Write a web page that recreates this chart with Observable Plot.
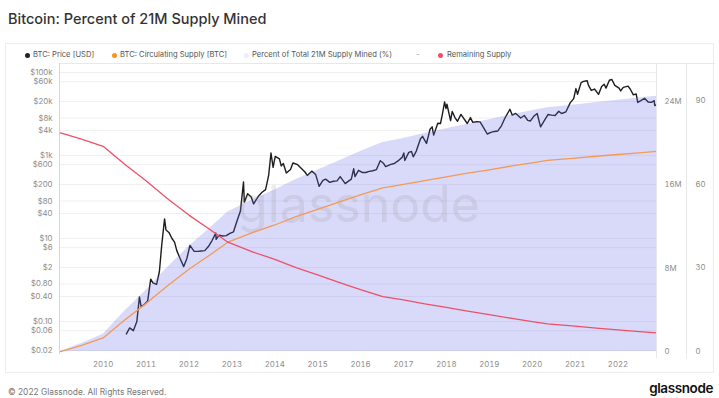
<!DOCTYPE html>
<html><head><meta charset="utf-8">
<script src="https://cdn.jsdelivr.net/npm/d3@7"></script>
<script src="https://cdn.jsdelivr.net/npm/@observablehq/plot@0.6"></script>
<style>
body{margin:0;background:#fff;font-family:Inter,"Noto Sans",sans-serif;}
#wrap{position:relative;width:719px;height:398px;overflow:hidden;background:#fff;}
#title{position:absolute;left:8px;top:10px;font-size:14.5px;font-weight:500;color:#333;white-space:nowrap;}
#panel{position:absolute;left:5px;top:43px;width:709px;height:330px;border:1px solid #ececec;box-sizing:border-box;}
.ln{position:absolute;background:#e8e8e8;}
.lg{position:absolute;top:50px;font-size:7.6px;color:#555;white-space:nowrap;line-height:10px;}
.dot{position:absolute;top:53px;width:5px;height:5px;border-radius:50%;}
.layer{position:absolute;left:0;top:40px;}
#foot{position:absolute;left:8px;top:387px;font-size:8.4px;color:#777;white-space:nowrap;}
#logo{position:absolute;right:6px;top:381px;font-size:13.5px;font-weight:600;color:#111;letter-spacing:-0.4px;white-space:nowrap;line-height:15px;}
</style></head><body>
<div id="wrap">
<div id="title">Bitcoin: Percent of 21M Supply Mined</div>
<div id="panel"></div>
<div class="dot" style="left:25px;background:#222"></div><div class="lg" style="left:33px">BTC: Price [USD]</div>
<div class="dot" style="left:112px;background:#f7931a"></div><div class="lg" style="left:120px">BTC: Circulating Supply [BTC]</div>
<div class="dot" style="left:244px;background:#ececfb"></div><div class="lg" style="left:252px">Percent of Total 21M Supply Mined (%)</div>
<div class="lg" style="left:416px;color:#999">-</div>
<div class="dot" style="left:438px;background:#ee4f66"></div><div class="lg" style="left:447px">Remaining Supply</div>
<div class="layer" id="l1"></div>
<div class="layer" id="l2"></div>
<div class="layer" id="l3"></div>
<div class="ln" style="left:60px;top:63px;width:655px;height:1px"></div>
<div class="ln" style="left:59px;top:63px;width:1px;height:291px;background:#d6d6d6"></div>
<div class="ln" style="left:656px;top:63px;width:1px;height:295px"></div>
<div class="ln" style="left:686px;top:63px;width:1px;height:295px"></div>
<div id="foot">© 2022 Glassnode. All Rights Reserved.</div>
<div id="logo">glassnode</div>
</div>
<script>
// ---- data ----
const priceDates = ["2010-07-18","2010-08-15","2010-09-15","2010-10-15","2010-11-06","2010-11-20","2010-12-15",
"2011-01-15","2011-02-10","2011-03-01","2011-04-01","2011-04-25","2011-05-15","2011-06-08","2011-06-20","2011-07-15","2011-08-10","2011-09-01","2011-09-20","2011-10-20","2011-11-18","2011-12-15",
"2012-01-10","2012-02-15","2012-03-15","2012-04-15","2012-05-15","2012-06-15","2012-07-15","2012-08-17","2012-08-20","2012-09-15","2012-10-15","2012-11-15","2012-12-15",
"2013-01-15","2013-02-15","2013-03-15","2013-04-10","2013-04-17","2013-05-15","2013-06-15","2013-07-05","2013-08-15","2013-09-15","2013-10-15","2013-11-10","2013-11-30","2013-12-18",
"2014-01-05","2014-02-10","2014-02-25","2014-03-15","2014-04-10","2014-05-15","2014-06-05","2014-07-15","2014-08-18","2014-09-15","2014-10-05","2014-11-12","2014-12-15",
"2015-01-14","2015-02-15","2015-03-10","2015-04-15","2015-05-15","2015-06-15","2015-07-12","2015-08-24","2015-09-15","2015-10-15","2015-11-04","2015-11-15","2015-12-15",
"2016-01-15","2016-02-15","2016-03-15","2016-04-15","2016-05-15","2016-06-17","2016-07-15","2016-08-02","2016-09-15","2016-10-15","2016-11-15","2016-12-20",
"2017-01-04","2017-01-12","2017-02-15","2017-03-10","2017-03-25","2017-04-20","2017-05-25","2017-06-12","2017-07-16","2017-08-15","2017-09-02","2017-09-15","2017-10-20","2017-11-12","2017-11-28","2017-12-17","2017-12-29",
"2018-01-06","2018-02-06","2018-02-20","2018-03-15","2018-04-06","2018-05-05","2018-06-28","2018-07-25","2018-08-14","2018-09-15","2018-10-15","2018-11-20","2018-12-15",
"2019-01-15","2019-02-15","2019-03-15","2019-04-15","2019-05-15","2019-06-26","2019-07-16","2019-08-15","2019-09-26","2019-10-26","2019-11-25","2019-12-18",
"2020-01-15","2020-02-13","2020-03-13","2020-04-15","2020-05-15","2020-06-15","2020-07-15","2020-08-15","2020-09-08","2020-10-15","2020-11-20","2020-12-20",
"2021-01-08","2021-01-22","2021-02-21","2021-03-13","2021-04-14","2021-04-25","2021-05-19","2021-06-15","2021-07-20","2021-08-15","2021-09-06","2021-09-21","2021-10-20","2021-11-10","2021-12-05",
"2022-01-10","2022-01-24","2022-02-15","2022-03-28","2022-04-15","2022-05-12","2022-06-05","2022-06-18","2022-07-15","2022-08-15","2022-09-15","2022-10-15","2022-11-05","2022-11-10","2022-11-25"];
const priceValues = [0.05,0.07,0.06,0.1,0.39,0.23,0.25,
0.31,1.05,0.85,0.78,1.6,7,29.6,16,14,10,8.2,5.1,3.2,2.1,3.3,
6.8,4.9,4.9,5,5.1,6.4,8.8,13.5,9.5,12,11.5,11.7,13.3,
14.5,27,46,230,75,120,100,68,105,130,150,330,1150,520,
950,830,560,640,380,460,660,600,480,400,330,420,350,
180,250,270,225,240,245,310,210,235,270,480,310,440,
390,390,415,430,455,750,650,540,610,640,740,900,
1150,760,1190,1250,930,1280,2500,2900,1950,4300,4900,3100,6000,5900,9800,19500,13500,
17200,6900,11500,8200,6700,9800,5900,8200,6300,6500,6450,4400,3300,
3600,3800,3900,5200,8000,13000,9400,10300,8000,9200,7000,6800,
8800,10300,4900,7000,9700,9400,9200,11600,10300,11300,18500,23500,
41000,30000,57000,61000,63500,49000,37000,40000,29800,46000,52000,42000,65000,68000,49000,
42000,36000,44000,47000,40000,29000,30500,19000,21000,24000,19500,19200,21000,16000,16500];

const supplyDates = ["2009-01-03","2009-07-01","2010-01-01","2010-07-01","2011-01-01","2011-07-01","2012-01-01","2012-07-01","2012-11-28","2013-07-01","2014-01-01","2014-07-01","2015-01-01","2015-07-01","2016-01-01","2016-07-09","2017-01-01","2017-07-01","2018-01-01","2018-07-01","2019-01-01","2019-07-01","2020-01-01","2020-05-11","2021-01-01","2021-07-01","2022-01-01","2022-07-01","2022-11-25"];
const supplyM = [0,0.6,1.3,3.0,4.6,6.3,7.9,9.3,10.5,11.45,12.15,12.95,13.65,14.35,15.05,15.72,16.05,16.42,16.77,17.12,17.45,17.8,18.12,18.35,18.57,18.75,18.92,19.08,19.21];
const percentMined = [0,2.9,6.2,14.3,21.9,30.0,37.6,44.3,50.0,54.5,57.9,61.7,65.0,68.3,71.7,74.9,76.4,78.2,79.9,81.5,83.1,84.8,86.3,87.4,88.4,89.3,90.1,90.9,91.5];
const remainingM = [21,20.4,19.7,18.0,16.4,14.7,13.1,11.7,10.5,9.55,8.85,8.05,7.35,6.65,5.95,5.28,4.95,4.58,4.23,3.88,3.55,3.2,2.88,2.65,2.43,2.25,2.08,1.92,1.79];

const yearTicks = ["2010","2011","2012","2013","2014","2015","2016","2017","2018","2019","2020","2021","2022"];
const priceTicks = [0.02,0.06,0.1,0.4,0.8,2,6,10,40,80,200,600,1000,4000,8000,20000,60000,100000];
const priceTickLabels = ["$0.02","$0.06","$0.10","$0.40","$0.80","$2","$6","$10","$40","$80","$200","$600","$1k","$4k","$8k","$20k","$60k","$100k"];
const supplyTicks = [0,8,16,24];
const supplyTickLabels = ["0","8M","16M","24M"];
const pctTicks = [0,30,60,90];

// ---- tables ----
const price = priceDates.map((d,i)=>({date:new Date(d), v:priceValues[i]}));
const sup = supplyDates.map((d,i)=>({date:new Date(d), s:supplyM[i], p:percentMined[i], r:remainingM[i]}));
const priceTickTable = priceTicks.map((v,i)=>({v, label:priceTickLabels[i]}));

const xDomain = [new Date("2009-01-03"), new Date("2022-11-25")];
const base = {width:719, height:340, marginLeft:60, marginRight:63, marginTop:24, marginBottom:27,
  style:{fontFamily:"Inter, 'Noto Sans', sans-serif", fontSize:"7.8px", color:"#8c8c8c", background:"transparent", overflow:"visible"}};

const p1 = Plot.plot({...base,
  x:{type:"time", domain:xDomain, label:null},
  y:{type:"log", domain:[0.0169,156000], label:null, axis:null},
  marks:[
    Plot.ruleY(priceTicks, {stroke:"#f0f0f0", strokeWidth:1}),
    Plot.lineY(price, {x:"date", y:"v", stroke:"#1c1c1c", strokeWidth:1.4}),
    Plot.text(priceTickTable, {y:"v", text:"label", frameAnchor:"left", dx:-8, textAnchor:"end", fill:"#8c8c8c"}),
    Plot.axisX({anchor:"bottom", ticks:yearTicks.map(y=>new Date(y+"-01-01")), tickSize:0, tickPadding:8, label:null,
      tickFormat:(d)=>String(d.getUTCFullYear())})
  ]});
document.getElementById("l1").appendChild(p1);

const p2 = Plot.plot({...base,
  x:{type:"time", domain:xDomain, axis:null},
  y:{domain:[-0.72,102.9], label:null},
  marks:[
    Plot.areaY(sup, {x:"date", y:"p", fill:"#6e6ee6", fillOpacity:0.26}),
    Plot.axisY({anchor:"right", ticks:pctTicks, tickSize:0, tickPadding:39, label:null, tickFormat:d=>String(d)})
  ]});
document.getElementById("l2").appendChild(p2);

const p3 = Plot.plot({...base,
  x:{type:"time", domain:xDomain, axis:null},
  y:{domain:[-0.19,27.56], label:null},
  marks:[
    Plot.text(["glassnode"], {frameAnchor:"middle", dy:-3, fontSize:50, fill:"#777", fillOpacity:0.13, fontWeight:400}),
    Plot.lineY(sup, {x:"date", y:"s", stroke:"#f39a55", strokeWidth:1.3}),
    Plot.lineY(sup, {x:"date", y:"r", stroke:"#ee5068", strokeWidth:1.3}),
    Plot.axisY({anchor:"right", ticks:supplyTicks, tickSize:0, tickPadding:8, label:null,
      tickFormat:(d)=>supplyTickLabels[supplyTicks.indexOf(d)]})
  ]});
document.getElementById("l3").appendChild(p3);
</script>
</body></html>
